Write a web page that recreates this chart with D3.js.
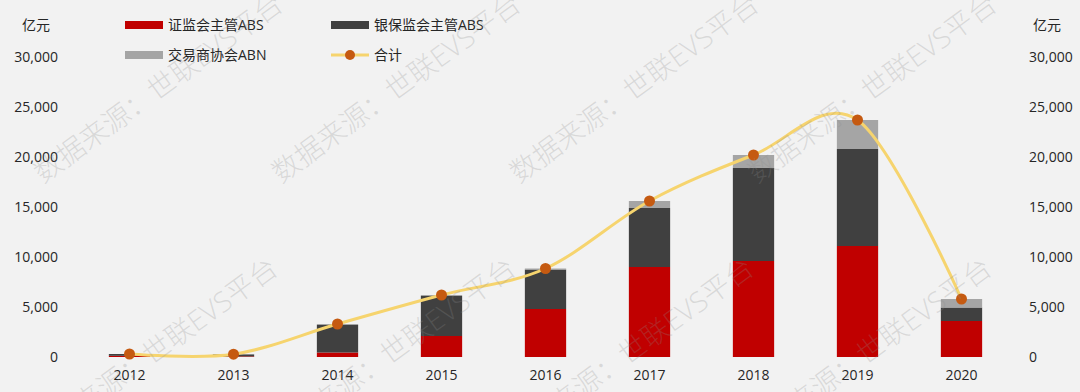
<!DOCTYPE html>
<html>
<head>
<meta charset="utf-8">
<script src="https://cdn.jsdelivr.net/npm/d3@7"></script>
<style>
  html, body { margin: 0; padding: 0; background: #f2f2f2; }
  svg { display: block; }
</style>
</head>
<body>
<svg id="chart" width="1080" height="392"></svg>
<script>
// ---------- data ----------
const years = ["2012", "2013", "2014", "2015", "2016", "2017", "2018", "2019", "2020"];
const csrcABS  = [120,  60,  450, 2100, 4800, 9000, 9600, 11100, 3600]; // 证监会主管ABS
const cbircABS = [180, 200, 2750, 4000, 3950, 5900, 9300,  9700, 1350]; // 银保监会主管ABS
const nafmiiABN = [0,   20,  100,  100,  100,  700, 1300,  2900,  850]; // 交易商协会ABN
const totals   = [300, 280, 3300, 6200, 8850, 15600, 20200, 23700, 5800]; // 合计
const yTicks = [0, 5000, 10000, 15000, 20000, 25000, 30000];
const seriesNames = ["证监会主管ABS", "银保监会主管ABS", "交易商协会ABN", "合计"];
const unitLabel = "亿元";
const watermarkText = "数据来源：世联EVS平台";

// ---------- setup ----------
const W = 1080, H = 392;
const svg = d3.select("#chart");
const FONT = "'Open Sans', 'Noto Sans CJK SC', sans-serif";
const colors = { red: "#c00000", dark: "#404040", gray: "#a5a5a5", line: "#f6d46e", dot: "#c55a11" };

svg.append("rect").attr("width", W).attr("height", H).attr("fill", "#f2f2f2");

const x = d3.scaleBand().domain(years).range([77.5, 1013.5]).paddingInner(0.603).paddingOuter(0.3015);
const y = d3.scaleLinear().domain([0, 30000]).range([357, 57]);

// stacked data
const rows = years.map((yr, i) => ({ year: yr, a: csrcABS[i], b: cbircABS[i], c: nafmiiABN[i] }));
const stack = d3.stack().keys(["a", "b", "c"])(rows);
const fills = [colors.red, colors.dark, colors.gray];

const gBars = svg.append("g");
stack.forEach((layer, li) => {
  gBars.selectAll(null).data(layer).join("rect")
    .attr("x", d => x(d.data.year))
    .attr("width", x.bandwidth())
    .attr("y", d => y(d[1]))
    .attr("height", d => Math.max(0, y(d[0]) - y(d[1])))
    .attr("fill", fills[li]);
});

// axes (labels only)
const leftAxis = d3.axisLeft(y).tickValues(yTicks).tickSize(0).tickPadding(0).tickFormat(d3.format(","));
const gL = svg.append("g").attr("transform", "translate(58,0)").call(leftAxis);
const rightAxis = d3.axisRight(y).tickValues(yTicks).tickSize(0).tickPadding(0).tickFormat(d3.format(","));
const gR = svg.append("g").attr("transform", "translate(1029,0)").call(rightAxis);
const bottomAxis = d3.axisBottom(x).tickSize(0).tickPadding(0);
const gB = svg.append("g").attr("transform", "translate(0,370)").call(bottomAxis);
[gL, gR, gB].forEach(g => {
  g.select(".domain").remove();
  g.selectAll("text").attr("font-family", FONT).attr("font-size", 14).attr("fill", "#262626");
});
gB.selectAll("text").attr("dy", "0.71em");

// unit labels
svg.append("text").attr("x", 36).attr("y", 30).attr("text-anchor", "middle")
  .attr("font-family", FONT).attr("font-size", 14).attr("fill", "#262626").text(unitLabel);
svg.append("text").attr("x", 1047).attr("y", 30).attr("text-anchor", "middle")
  .attr("font-family", FONT).attr("font-size", 14).attr("fill", "#262626").text(unitLabel);

// total line (smoothed like Excel)
const cx = d => x(d) + x.bandwidth() / 2;
const line = d3.line().x((d, i) => cx(years[i])).y(d => y(d)).curve(d3.curveCardinal.tension(0));
svg.append("path").attr("d", line(totals)).attr("fill", "none")
  .attr("stroke", colors.line).attr("stroke-width", 3);
svg.append("g").selectAll("circle").data(totals).join("circle")
  .attr("cx", (d, i) => cx(years[i])).attr("cy", d => y(d)).attr("r", 5.5)
  .attr("fill", colors.dot);

// legend
const legend = svg.append("g");
const legItems = [
  { name: seriesNames[0], type: "rect", color: colors.red,  x: 125, y: 25 },
  { name: seriesNames[1], type: "rect", color: colors.dark, x: 331, y: 25 },
  { name: seriesNames[2], type: "rect", color: colors.gray, x: 125, y: 55 },
  { name: seriesNames[3], type: "line", color: colors.line, x: 331, y: 55 }
];
legItems.forEach(it => {
  if (it.type === "rect") {
    legend.append("rect").attr("x", it.x).attr("y", it.y - 4).attr("width", 38).attr("height", 8).attr("fill", it.color);
  } else {
    legend.append("line").attr("x1", it.x).attr("x2", it.x + 38).attr("y1", it.y).attr("y2", it.y)
      .attr("stroke", it.color).attr("stroke-width", 3);
    legend.append("circle").attr("cx", it.x + 19).attr("cy", it.y).attr("r", 5).attr("fill", colors.dot);
  }
  legend.append("text").attr("x", it.x + 43).attr("y", it.y).attr("dy", "0.35em")
    .attr("font-family", FONT).attr("font-size", 14).attr("fill", "#262626").text(it.name);
});

// watermark (tiled, as in the reference)
const wm = svg.append("g").attr("pointer-events", "none");
const wmStarts = [];
for (let i = 0; i < 4; i++) {
  wmStarts.push([43 + 238 * i, 184]);
  wmStarts.push([38 + 238 * i, 448]);
}
wmStarts.forEach(p => {
  wm.append("text").attr("transform", `translate(${p[0]},${p[1]}) rotate(-36)`)
    .attr("font-family", FONT).attr("font-size", 28).attr("font-weight", 300)
    .attr("fill", "#8c8c8c").attr("fill-opacity", 0.25).text(watermarkText);
});
</script>
</body>
</html>
